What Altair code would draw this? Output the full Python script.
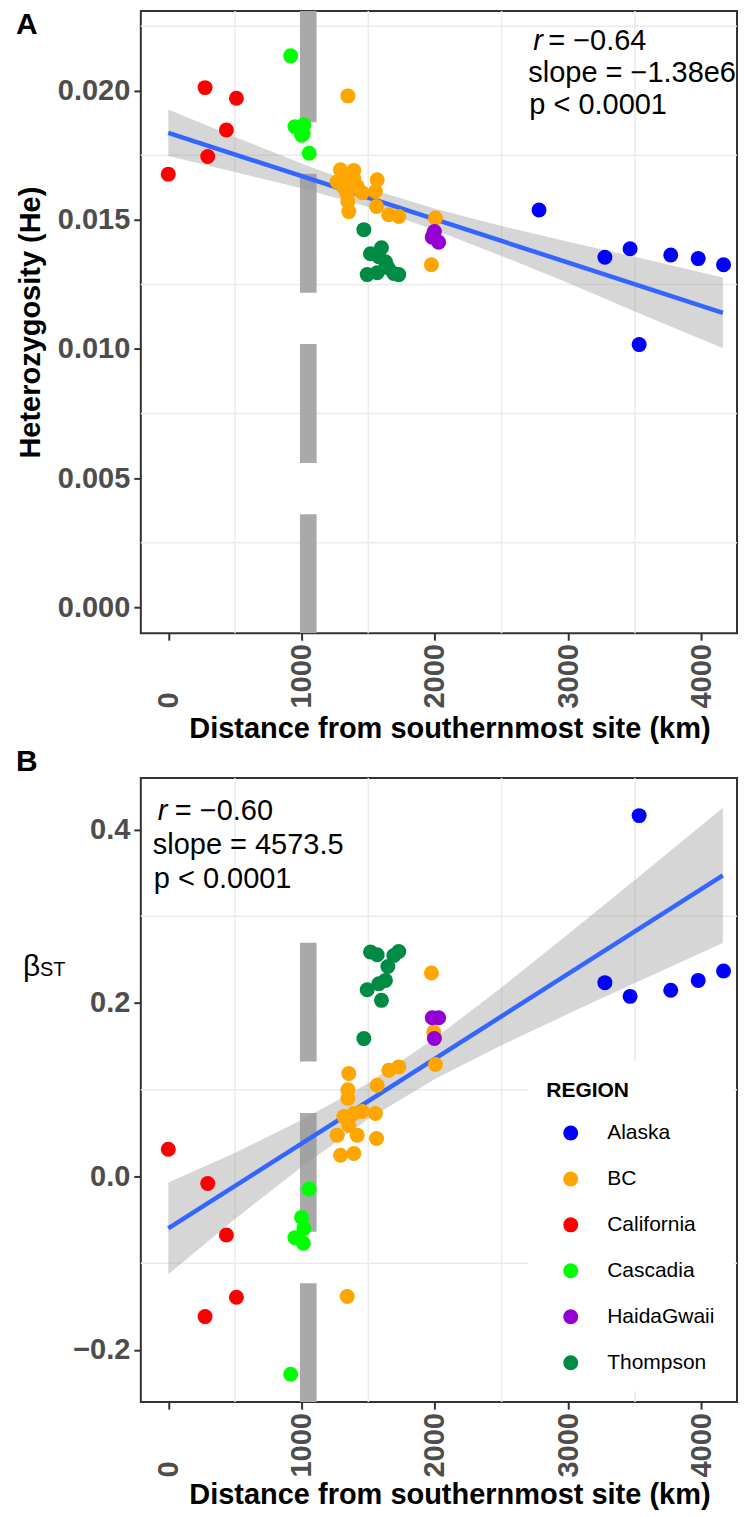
import altair as alt
import pandas as pd

# ---------------- data ----------------
REGIONS = ["Alaska", "BC", "California", "Cascadia", "HaidaGwaii", "Thompson"]
COLORS = ["#0000FF", "#FFA500", "#FF0000", "#00FF00", "#9400D3", "#008B45"]

cal_km = [0, 276, 296, 436, 511]
cal_he = [0.01677, 0.02012, 0.01745, 0.01848, 0.01971]
cal_beta = [0.0314, -0.1616, -0.0081, -0.0676, -0.1393]

cas_km = [918, 950, 1000, 1013, 1017, 1057]
cas_he = [0.02135, 0.01861, 0.01828, 0.01835, 0.01868, 0.01758]
cas_beta = [-0.228, -0.0706, -0.0472, -0.0771, -0.0599, -0.0146]

bc_km = [1974, 1991, 2004, 1354, 1654, 1729, 1567, 1554, 1347, 1347,
         1317, 1392, 1455, 1354, 1267, 1417, 1562, 1292, 1392, 1342]
bc_he = [0.01326, 0.0145, 0.01507, 0.01532, 0.0152, 0.01513, 0.01655, 0.0161, 0.0198, 0.01571,
         0.01625, 0.01691, 0.01605, 0.0165, 0.01648, 0.0163, 0.01552, 0.01694, 0.0166, 0.0160]
bc_beta = [0.2345, 0.1666, 0.129, 0.1186, 0.1224, 0.1263, 0.1051, 0.0725, 0.100, 0.090,
           0.069, 0.0725, 0.0748, 0.059, 0.0476, 0.0476, 0.0437, 0.0245, 0.0265, -0.1385]

tho_km = [1467, 1492, 1517, 1567, 1579, 1599, 1629, 1647, 1692, 1729]
tho_he = [0.01462, 0.01288, 0.01369, 0.01295, 0.01357, 0.01392, 0.01338, 0.01315, 0.01292, 0.01288]
tho_beta = [0.1589, 0.2153, 0.2587, 0.2556, 0.2222, 0.203, 0.226, 0.2421, 0.2548, 0.2594]

hg_km = [1980, 1996, 2028]
hg_he = [0.01433, 0.01455, 0.01413]
hg_beta = [0.183, 0.159, 0.183]

ak_km = [2781, 3275, 3464, 3532, 3769, 3975, 4165]
ak_he = [0.01538, 0.01355, 0.01388, 0.01017, 0.01364, 0.01350, 0.01326]
ak_beta = [None, 0.2234, 0.2076, 0.416, 0.2146, 0.226, 0.2368]

X_TICKS = [0, 1000, 2000, 3000, 4000]
X_MINOR = [500, 1500, 2500, 3500]
HE_TICKS = [0.0, 0.005, 0.010, 0.015, 0.020]
HE_MINOR = [0.0025, 0.0075, 0.0125, 0.0175, 0.0225]
BETA_TICKS = [-0.2, 0.0, 0.2, 0.4]
BETA_MINOR = [-0.1, 0.1, 0.3]

FIT_KM = [0, 4160]
HE_FIT = [0.01837, 0.01140]
BETA_FIT = [-0.0599, 0.3470]

BAND_KM = [0, 500, 1000, 1500, 2000, 2500, 3000, 3500, 4160]
HE_LO = [0.01747, 0.01685, 0.01622, 0.01550, 0.01461, 0.01360, 0.01255, 0.01145, 0.01003]
HE_HI = [0.01927, 0.01821, 0.01718, 0.01622, 0.01543, 0.01476, 0.01415, 0.01357, 0.01277]
BETA_LO = [-0.1129, -0.0490, 0.0110, 0.0663, 0.1122, 0.1513, 0.1875, 0.2229, 0.2690]
BETA_HI = [-0.0069, 0.0270, 0.0650, 0.1073, 0.1592, 0.2179, 0.2795, 0.3419, 0.4250]

BREAK_KM = 1050
BETA_BREAK_TOP = 0.27

ANN_A = ["r", "= \u22120.64", "slope = \u22121.38e6", "p < 0.0001"]
ANN_B = ["r", "= \u22120.60", "slope = 4573.5", "p < 0.0001"]

# ---------------- tables ----------------
rows = []
for reg, kms, hes, bes in [
    ("California", cal_km, cal_he, cal_beta),
    ("Cascadia", cas_km, cas_he, cas_beta),
    ("BC", bc_km, bc_he, bc_beta),
    ("Thompson", tho_km, tho_he, tho_beta),
    ("HaidaGwaii", hg_km, hg_he, hg_beta),
    ("Alaska", ak_km, ak_he, ak_beta),
]:
    for k, h, b in zip(kms, hes, bes):
        rows.append({"region": reg, "km": k, "he": h, "beta": b})
sites = pd.DataFrame(rows)
sites_b = sites.dropna(subset=["beta"])

band = pd.DataFrame({"km": BAND_KM, "he_lo": HE_LO, "he_hi": HE_HI,
                     "b_lo": BETA_LO, "b_hi": BETA_HI})
fit = pd.DataFrame({"km": FIT_KM, "he": HE_FIT, "beta": BETA_FIT})

FONT = "Liberation Sans"
W = 597
X_DOMAIN = [-206, 4266]
HE_DOMAIN = [-0.001005, 0.023086]
BETA_DOMAIN = [-0.2602, 0.4594]
AX_FS = 29
TXT_FS = 29

XTITLE = "Distance from southernmost site (km)"


def x_enc(field, title_pad):
    return alt.X(field, scale=alt.Scale(domain=X_DOMAIN, nice=False, zero=False),
                 axis=alt.Axis(values=X_TICKS, format="d", labelAngle=270, labelAlign="left",
                               labelBaseline="middle", labelPadding=68, labelFlush=False,
                               labelOverlap=False, labelBound=False, labelFontSize=AX_FS,
                               labelFontWeight="bold", labelColor="#4D4D4D", tickSize=7,
                               tickWidth=2, tickColor="#333333", domain=False, grid=False,
                               title=XTITLE, titleFontSize=29, titleFontWeight="bold",
                               titleColor="black", titlePadding=title_pad, titleX=309))


def y_enc(field, ydomain, yticks, yfmt, ytitle):
    return alt.Y(field, scale=alt.Scale(domain=ydomain, nice=False, zero=False),
                 title=ytitle,
                 axis=alt.Axis(values=yticks, format=yfmt, labelFontSize=AX_FS,
                               labelFontWeight="bold", labelColor="#4D4D4D", labelPadding=4,
                               tickSize=7, tickWidth=2, tickColor="#333333", domain=False,
                               grid=False, labelFlush=False, labelOverlap=False,
                               titleFontSize=AX_FS, titleFontWeight="bold", titleColor="black",
                               titlePadding=12))


def text_layer(txt, x, y, size, weight="normal", style="normal", color="black", align="left",
               baseline="alphabetic"):
    return alt.Chart(pd.DataFrame({"t": [txt]})).mark_text(
        align=align, baseline=baseline, fontSize=size, fontWeight=weight, fontStyle=style,
        color=color, font=FONT).encode(x=alt.value(x), y=alt.value(y), text="t:N")


def panel(ycol, lo, hi, ydomain, yticks, yminor, yfmt, ytitle, height, bar_top, data,
          legend, ann, ann_pos, tag, tag_y, title_pad, extra=()):
    Y = lambda f: y_enc(f, ydomain, yticks, yfmt, ytitle)
    X = lambda f: x_enc(f, title_pad)
    vgrid = alt.Chart(pd.DataFrame({"g": X_MINOR})).mark_rule(
        color="#EBEBEB", strokeWidth=1.5).encode(x=X("g:Q"))
    hgrid = alt.Chart(pd.DataFrame({"g": yminor})).mark_rule(
        color="#EBEBEB", strokeWidth=1.5).encode(y=Y("g:Q"))
    bar = alt.Chart(pd.DataFrame({"x": [BREAK_KM], "y0": [ydomain[0]], "y1": [bar_top]})).mark_rule(
        color="#A9A9A9", strokeWidth=16.7, strokeDash=[119, 51.5], strokeCap="butt",
        clip=True).encode(x=X("x:Q"), y=Y("y0:Q"), y2="y1:Q")
    rib = alt.Chart(band).mark_area(color="#999999", opacity=0.4).encode(
        x=X("km:Q"), y=Y(lo + ":Q"), y2=hi + ":Q")
    line = alt.Chart(fit).mark_line(color="#3366FF", strokeWidth=4.5).encode(
        x=X("km:Q"), y=Y(ycol + ":Q"))
    pts = alt.Chart(data).mark_circle(size=225, opacity=1).encode(
        x=X("km:Q"),
        y=Y(ycol + ":Q"),
        color=alt.Color("region:N", scale=alt.Scale(domain=REGIONS, range=COLORS), legend=legend),
    )
    (rx, ry), (ex, ey), (sx, sy), (px, py) = ann_pos
    texts = [
        text_layer(ann[0], rx, ry, TXT_FS, style="italic"),
        text_layer(ann[1], ex, ey, TXT_FS),
        text_layer(ann[2], sx, sy, TXT_FS),
        text_layer(ann[3], px, py, TXT_FS),
        text_layer(tag, -125, tag_y, 30, weight="bold", baseline="top"),
    ]
    return alt.layer(vgrid, hgrid, bar, rib, line, pts, *texts, *extra).properties(
        width=W, height=height)


panel_a = panel("he", "he_lo", "he_hi", HE_DOMAIN, HE_TICKS, HE_MINOR, ".3f",
                "Heterozygosity (He)", 623, HE_DOMAIN[1], sites, None, ANN_A,
                [(393, 39), (408, 39), (388, 71), (389, 103)], "A", -1, 6)

legend_b = alt.Legend(orient="none", legendX=388, legendY=284, fillColor="white", padding=18,
                      title="REGION", titleFontSize=21, titleFontWeight="bold", titleColor="black",
                      titleFont=FONT, titlePadding=22, labelFont=FONT, labelFontSize=21,
                      labelColor="black", symbolSize=225, symbolType="circle", symbolStrokeWidth=0,
                      symbolOpacity=1, rowPadding=24, labelOffset=26, symbolOffset=14)

beta_lbl = [
    text_layer("\u03b2", -118, 198, 30),
    text_layer("ST", -101, 198, 20),
]

panel_b = panel("beta", "b_lo", "b_hi", BETA_DOMAIN, BETA_TICKS, BETA_MINOR, ".1f",
                None, 625, BETA_BREAK_TOP, sites_b, legend_b, ANN_B,
                [(17, 42), (34, 42), (12, 76), (13, 110)], "B", -31, 4, extra=beta_lbl)

chart = alt.vconcat(panel_a, panel_b, spacing=145, bounds="flush").resolve_scale(
    x="independent", y="independent", color="independent"
).properties(
    padding={"left": 7, "top": 0, "right": 0, "bottom": -1}
).configure(font=FONT, background="white").configure_view(stroke="#333333", strokeWidth=2)

chart.save("out.html", embed_options={"renderer": "svg", "actions": False})
